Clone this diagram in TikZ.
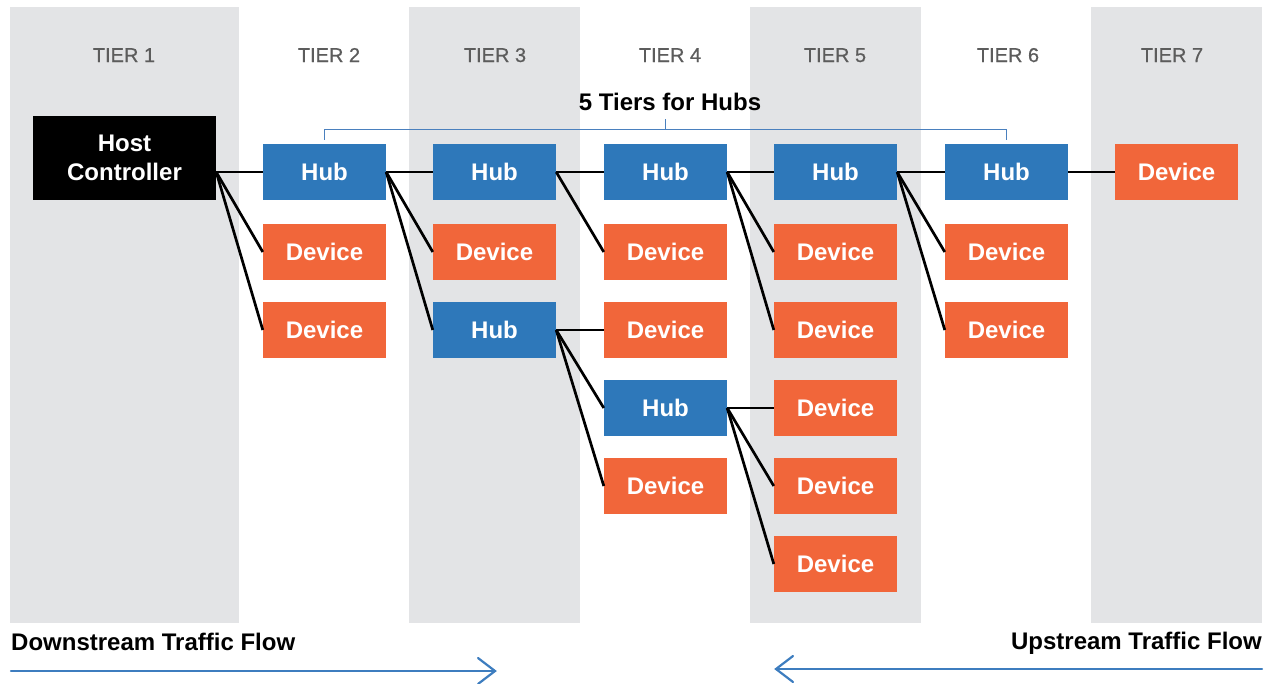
\documentclass[tikz,border=0pt]{standalone}
\usepackage{fontspec}
\setmainfont{Liberation Sans}
\newfontfamily\tierfont[FakeBold=0.6]{Liberation Sans}
\usetikzlibrary{calc}
\definecolor{band}{HTML}{E3E4E6}
\definecolor{hubblue}{HTML}{2E78BA}
\definecolor{devorange}{HTML}{F1663A}
\definecolor{tiergray}{HTML}{5C5C5C}
\definecolor{flowblue}{HTML}{3D7DBF}
\definecolor{bracketblue}{HTML}{4A80BE}
\begin{document}
\begin{tikzpicture}[x=1pt,y=-1pt,
  box/.style={minimum width=123pt, minimum height=56pt, inner sep=0pt, text=white,
    font=\fontsize{24}{29}\selectfont\bfseries},
  hub/.style={box, fill=hubblue},
  dev/.style={box, fill=devorange},
  hcbox/.style={box, fill=black, minimum width=183pt, minimum height=84pt, align=center},
  link/.style={line width=2.7pt, black},
  tierlabel/.style={text=tiergray, font=\tierfont\fontsize{20}{24}\selectfont, anchor=base, inner sep=0pt},
  heading/.style={text=black, font=\fontsize{24}{29}\selectfont\bfseries, inner sep=0pt},
  bracket/.style={line width=1.2pt, bracketblue},
  flow/.style={line width=2.2pt, flowblue, line cap=round, line join=miter}
]
\useasboundingbox (0,0) rectangle (1269,683);
% tier bands
\fill[band] (10,7) rectangle (239,623);
\fill[band] (409,7) rectangle (580,623);
\fill[band] (750,7) rectangle (921,623);
\fill[band] (1091,7) rectangle (1262,623);
% tier labels
\node[tierlabel] (t1) at (124,62) {TIER 1};
\node[tierlabel] (t2) at (329,62) {TIER 2};
\node[tierlabel] (t3) at (495,62) {TIER 3};
\node[tierlabel] (t4) at (670,62) {TIER 4};
\node[tierlabel] (t5) at (835,62) {TIER 5};
\node[tierlabel] (t6) at (1008,62) {TIER 6};
\node[tierlabel] (t7) at (1172,62) {TIER 7};
% boxes
\node[hcbox] (hc) at (124.5,158) {Host\\Controller};
\node[hub] (h2)  at (324.5,172) {Hub};
\node[dev] (d2a) at (324.5,252) {Device};
\node[dev] (d2b) at (324.5,330) {Device};
\node[hub] (h3)  at (494.5,172) {Hub};
\node[dev] (d3a) at (494.5,252) {Device};
\node[hub] (h3b) at (494.5,330) {Hub};
\node[hub] (h4)  at (665.5,172) {Hub};
\node[dev] (d4a) at (665.5,252) {Device};
\node[dev] (d4b) at (665.5,330) {Device};
\node[hub] (h4b) at (665.5,408) {Hub};
\node[dev] (d4c) at (665.5,486) {Device};
\node[hub] (h5)  at (835.5,172) {Hub};
\node[dev] (d5a) at (835.5,252) {Device};
\node[dev] (d5b) at (835.5,330) {Device};
\node[dev] (d5c) at (835.5,408) {Device};
\node[dev] (d5d) at (835.5,486) {Device};
\node[dev] (d5e) at (835.5,564) {Device};
\node[hub] (h6)  at (1006.5,172) {Hub};
\node[dev] (d6a) at (1006.5,252) {Device};
\node[dev] (d6b) at (1006.5,330) {Device};
\node[dev] (d7)  at (1176.5,172) {Device};
% links
\coordinate (hcout) at (hc.east |- h2.west);
\draw[link] (hcout) -- (h2.west);
\draw[link] (hcout) -- (d2a.west);
\draw[link] (hcout) -- (d2b.west);
\draw[link] (h2.east) -- (h3.west);
\draw[link] (h2.east) -- (d3a.west);
\draw[link] (h2.east) -- (h3b.west);
\draw[link] (h3.east) -- (h4.west);
\draw[link] (h3.east) -- (d4a.west);
\draw[link] (h3b.east) -- (d4b.west);
\draw[link] (h3b.east) -- (h4b.west);
\draw[link] (h3b.east) -- (d4c.west);
\draw[link] (h4.east) -- (h5.west);
\draw[link] (h4.east) -- (d5a.west);
\draw[link] (h4.east) -- (d5b.west);
\draw[link] (h4b.east) -- (d5c.west);
\draw[link] (h4b.east) -- (d5d.west);
\draw[link] (h4b.east) -- (d5e.west);
\draw[link] (h5.east) -- (h6.west);
\draw[link] (h5.east) -- (d6a.west);
\draw[link] (h5.east) -- (d6b.west);
\draw[link] (h6.east) -- (d7.west);
% hub tiers bracket
\node[heading, anchor=base] (hubtiers) at (670,110) {5 Tiers for Hubs};
\coordinate (bl) at ($(h2.north)+(0,-4)$);
\coordinate (br) at ($(h6.north)+(0,-4)$);
\draw[bracket] (bl) -- ++(0,-10.5) -| (br);
\coordinate (btop) at (665.5,119);
\coordinate (bmid) at (665.5,129.5);
\draw[bracket] (btop) -- (bmid);
% traffic flow
\node[heading, anchor=base west] (down) at (11,650) {Downstream Traffic Flow};
\node[heading, anchor=base east] (up) at (1262,649) {Upstream Traffic Flow};
\coordinate (ds) at (11,671);
\coordinate (de) at (495,671);
\draw[flow] (ds) -- (de);
\draw[flow] ([shift={(-17,-13)}]de) -- (de) -- ([shift={(-17,13)}]de);
\coordinate (us) at (1262,669);
\coordinate (ue) at (776,669);
\draw[flow] (us) -- (ue);
\draw[flow] ([shift={(17,-13)}]ue) -- (ue) -- ([shift={(17,13)}]ue);
\end{tikzpicture}
\end{document}
